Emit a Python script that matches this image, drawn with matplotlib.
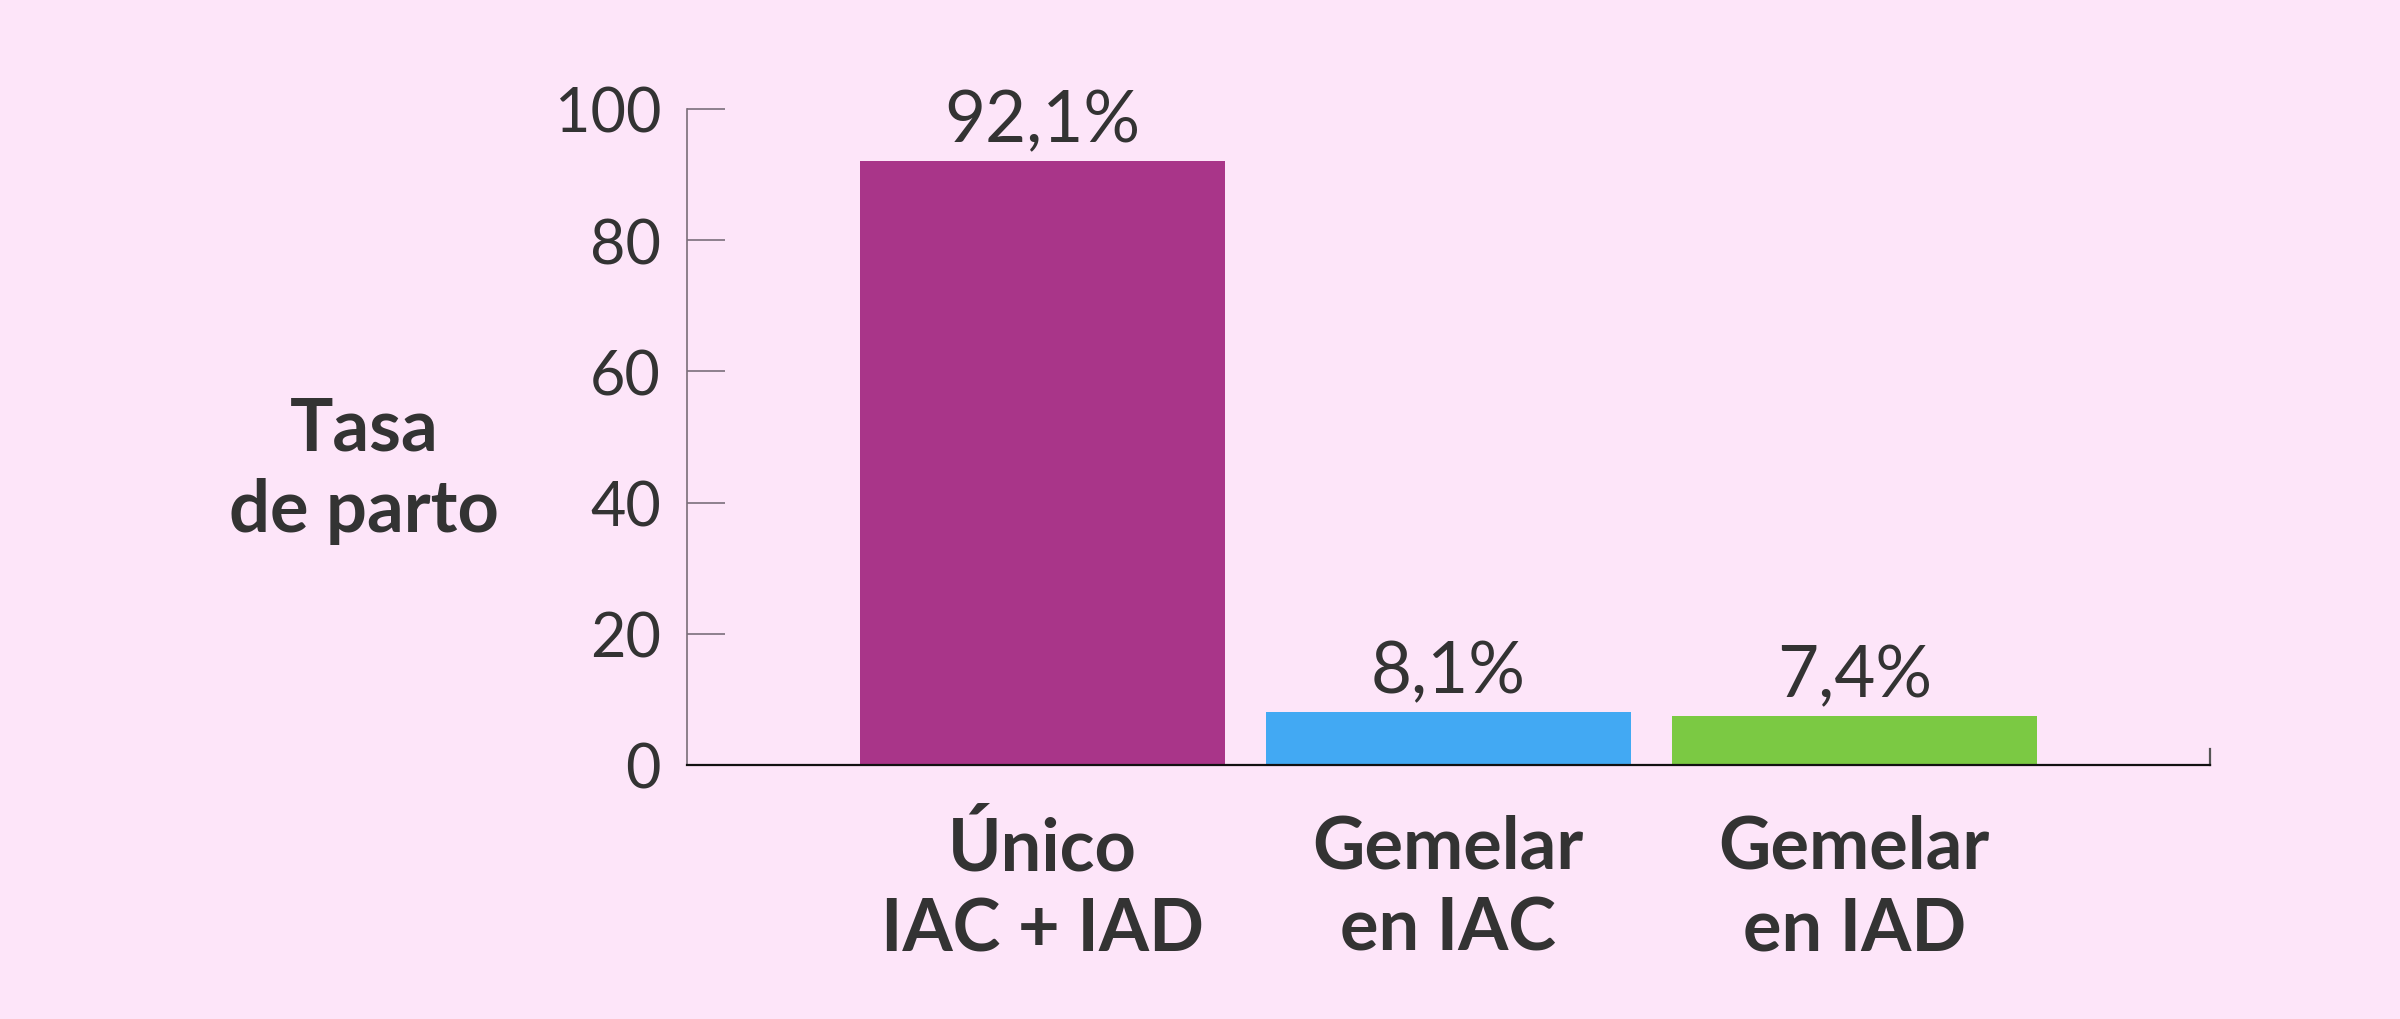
import matplotlib
matplotlib.use("Agg")
import matplotlib.pyplot as plt

categories = ["Único\nIAC + IAD", "Gemelar\nen IAC", "Gemelar\nen IAD"]
values = [92.1, 8.1, 7.4]
value_labels = ["92,1%", "8,1%", "7,4%"]
yticks = [0, 20, 40, 60, 80, 100]
ylabel = "Tasa\nde parto"

BG = "#FDE5F9"
TXT = "#333333"
colors = ["#A93589", "#42A9F3", "#7BC943"]

plt.rcParams['font.family'] = ['Lato', 'DejaVu Sans']

fig = plt.figure(figsize=(24, 10.2), dpi=100, facecolor=BG)
ax = fig.add_axes([687/2400, 254/1020, (2209.5-687)/2400, 656/1020])
ax.set_facecolor(BG)

x = list(range(len(values)))
ax.bar(x, values, width=0.9, color=colors, zorder=2)
ax.set_xlim(-0.875, 2.875)
ax.set_ylim(0, 100)

for xi, v, lab in zip(x, values, value_labels):
    ax.annotate(lab, (xi, v), xytext=(0, 14.4), textcoords='offset points',
                ha='center', va='baseline', fontsize=51, color=TXT,
                fontweight='normal')

for s in ['top', 'right']:
    ax.spines[s].set_visible(False)
ax.spines['left'].set_color('#7a6e78')
ax.spines['left'].set_linewidth(1.2)
ax.spines['bottom'].set_color('#111111')
ax.spines['bottom'].set_linewidth(1.6)
ax.spines['bottom'].set_zorder(3)
# small end tick at the right end of the x axis
ax.plot([2.875, 2.875], [0, 16/6.56], color='#555555', lw=1.6, clip_on=False, zorder=3)

ax.set_yticks(yticks)
ax.set_yticklabels([str(t) for t in yticks])
ax.tick_params(axis='y', direction='in', length=27.4, width=1.1, color='#6f6470',
               labelsize=44, labelcolor=TXT, pad=18.7)

ax.set_xticks(x)
ax.set_xticklabels(categories, fontsize=52, fontweight='bold', color=TXT, linespacing=1.27)
ax.tick_params(axis='x', length=0, pad=35)

ax.set_ylabel(ylabel, rotation=0, fontsize=52, fontweight='bold', color=TXT,
              ha='center', va='center', linespacing=1.27)
ax.yaxis.set_label_coords((364-687)/1522.5, 0.45)

fig.savefig("out.png", dpi=100, facecolor=BG)
